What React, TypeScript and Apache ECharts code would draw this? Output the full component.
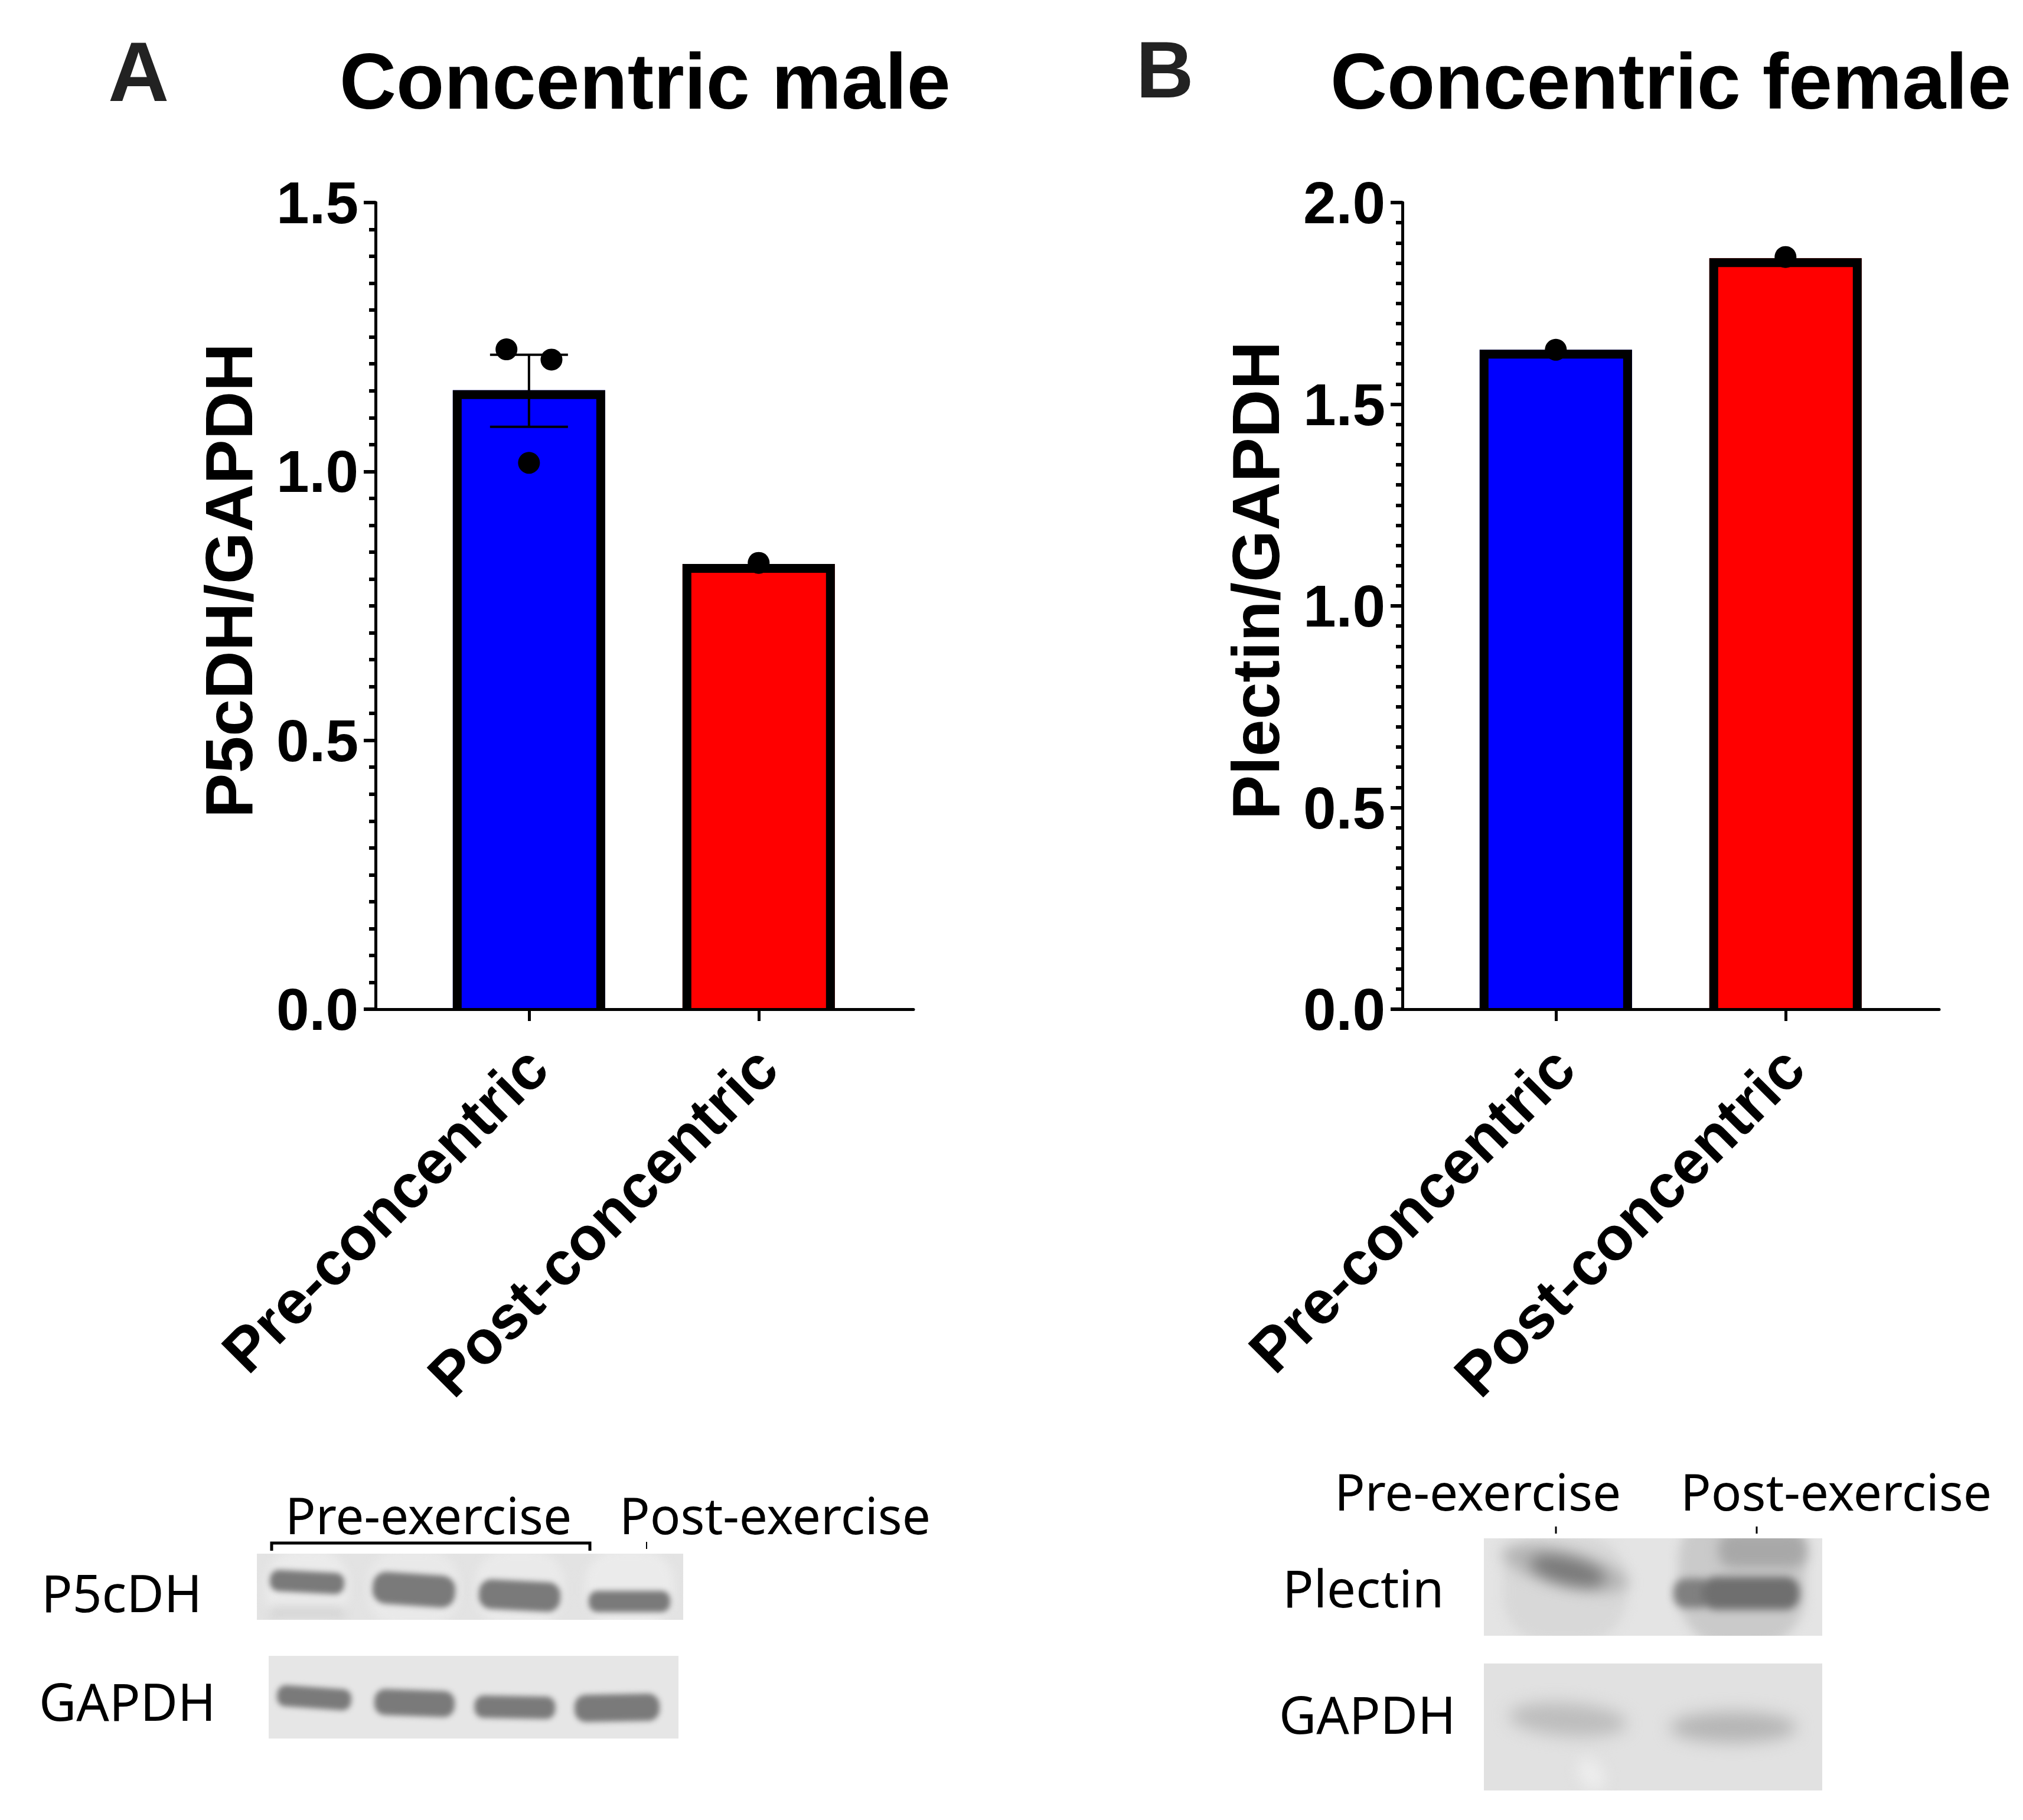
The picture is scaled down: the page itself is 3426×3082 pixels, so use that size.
import React, { useEffect, useRef } from "react";
import * as echarts from "echarts";

const categories = ["Pre-concentric", "Post-concentric"];
const barColors = ["#0000ff", "#ff0000"];
const maleBars = [1.151, 0.828];
const femaleBars = [1.635, 1.862];
const malePreDots = [1.227, 1.208, 1.016];
const malePreJitter = [-0.098, 0.098, 0];
const malePostDots = [0.83];
const femalePreDots = [1.635];
const femalePostDots = [1.865];
const maleError = [1.083, 1.217];
const yTicksMale = { max: 1.5, step: 0.5 };
const yTicksFemale = { max: 2.0, step: 0.5 };

const SANS = '"Liberation Sans", Arial, sans-serif';
const BLOT_FONT = '"Noto Sans", sans-serif';
const BAR_W = 258;
const BORDER = 15;

type Band = [number, number, number, number, number, string, number];
function blot(x: number, y: number, w: number, h: number, bg: string, lanes: Band[], bands: Band[]) {
  const c = document.createElement("canvas");
  c.width = w;
  c.height = h;
  const g = c.getContext("2d") as CanvasRenderingContext2D;
  g.fillStyle = bg;
  g.fillRect(0, 0, w, h);
  const draw = (b: Band, ellipse: boolean) => {
    const [cx, cy, bw, bh, rot, col, blur] = b;
    g.save();
    g.filter = `blur(${blur}px)`;
    g.fillStyle = col;
    g.translate(cx - x, cy - y);
    g.rotate((rot * Math.PI) / 180);
    g.beginPath();
    if (ellipse) g.ellipse(0, 0, bw / 2, bh / 2, 0, 0, Math.PI * 2);
    else g.roundRect(-bw / 2, -bh / 2, bw, bh, Math.min(bw, bh) * 0.42);
    g.fill();
    g.restore();
  };
  lanes.forEach((b) => draw(b, false));
  bands.forEach((b) => draw(b, b[6] > 10));
  return { type: "image", z: 1, style: { image: c.toDataURL("image/png"), x, y, width: w, height: h } };
}

function txt(text: string, x: number, baseline: number, size: number) {
  return {
    type: "text",
    z: 5,
    style: { text, x, y: baseline - size * 0.89, font: `${size}px ${BLOT_FONT}`, fill: "#000", verticalAlign: "top" },
  };
}

function line(x1: number, y1: number, x2: number, y2: number, w: number) {
  return { type: "line", z: 5, shape: { x1, y1, x2, y2 }, style: { stroke: "#000", lineWidth: w } };
}

function xAxisOf(gridIndex: number, min: number, max: number) {
  return {
    type: "value",
    gridIndex,
    min,
    max,
    z: 4,
    splitLine: { show: false },
    axisLine: { show: true, onZero: false, lineStyle: { color: "#000", width: 5 } },
    axisTick: { show: true, customValues: [1, 2], length: 20, lineStyle: { color: "#000", width: 5 } },
    axisLabel: {
      show: true,
      customValues: [1, 2],
      rotate: 45,
      margin: 95,
      padding: [0, -19, 0, 0],
      color: "#000",
      fontFamily: SANS,
      fontWeight: "bold",
      fontSize: 104,
      formatter: (v: number) => categories[v - 1],
    },
  };
}

function yAxisOf(gridIndex: number, name: string, t: { max: number; step: number }) {
  return {
    type: "value",
    gridIndex,
    min: 0,
    max: t.max,
    interval: t.step,
    name,
    nameLocation: "middle",
    nameRotate: 90,
    nameGap: 192,
    nameTextStyle: { color: "#000", fontFamily: SANS, fontWeight: "bold", fontSize: 113, padding: [0, 0, 0, 86] },
    splitLine: { show: false },
    axisLine: { show: true, lineStyle: { color: "#000", width: 5 } },
    axisTick: { show: true, length: 20, lineStyle: { color: "#000", width: 6 } },
    minorTick: { show: true, splitNumber: 10, length: 11, lineStyle: { color: "#000", width: 6 } },
    axisLabel: {
      margin: 29,
      color: "#000",
      fontFamily: SANS,
      fontWeight: "bold",
      fontSize: 100,
      formatter: (v: number) => v.toFixed(1),
    },
  };
}

function barSeries(i: number, vals: number[]) {
  return {
    type: "bar",
    xAxisIndex: i,
    yAxisIndex: i,
    barWidth: BAR_W,
    z: 2,
    data: vals.map((v, k) => ({ value: [k + 1, v], itemStyle: { color: barColors[k] } })),
  };
}

// three-sided outline: the reference's bars have no black edge along the axis
function outlineSeries(i: number, vals: number[]) {
  return {
    type: "custom",
    xAxisIndex: i,
    yAxisIndex: i,
    z: 3,
    data: vals.map((v, k) => [k + 1, v]),
    renderItem: (_: any, api: any) => {
      const top = api.coord([api.value(0), api.value(1)]);
      const base = api.coord([api.value(0), 0]);
      const half = BAR_W / 2 - BORDER / 2;
      return {
        type: "polyline",
        shape: {
          points: [
            [top[0] - half, base[1]],
            [top[0] - half, top[1] + BORDER / 2],
            [top[0] + half, top[1] + BORDER / 2],
            [top[0] + half, base[1]],
          ],
        },
        style: { stroke: "#000", lineWidth: BORDER, fill: "none", lineJoin: "miter" },
      };
    },
  };
}

function dotSeries(i: number, pts: number[][]) {
  return {
    type: "scatter",
    xAxisIndex: i,
    yAxisIndex: i,
    symbol: "circle",
    symbolSize: 37,
    z: 7,
    itemStyle: { color: "#000", opacity: 1 },
    data: pts,
  };
}

const option: any = {
  animation: false,
  backgroundColor: "#fff",
  title: [
    { text: "Concentric male", left: 570, top: 66, textStyle: { fontFamily: SANS, fontWeight: "bold", fontSize: 133, color: "#000" } },
    { text: "Concentric female", left: 2248, top: 66, textStyle: { fontFamily: SANS, fontWeight: "bold", fontSize: 133, color: "#000" } },
  ],
  grid: [
    { left: 636, top: 343, width: 911, height: 1366 },
    { left: 2375, top: 343, width: 909, height: 1366 },
  ],
  xAxis: [xAxisOf(0, 0.332, 2.674), xAxisOf(1, 0.332, 2.669)],
  yAxis: [yAxisOf(0, "P5cDH/GAPDH", yTicksMale), yAxisOf(1, "Plectin/GAPDH", yTicksFemale)],
  series: [
    barSeries(0, maleBars),
    barSeries(1, femaleBars),
    outlineSeries(0, maleBars),
    outlineSeries(1, femaleBars),
    {
      type: "custom",
      xAxisIndex: 0,
      yAxisIndex: 0,
      z: 6,
      data: [[1, maleError[0], maleError[1]]],
      renderItem: (_: any, api: any) => {
        const lo = api.coord([api.value(0), api.value(1)]);
        const hi = api.coord([api.value(0), api.value(2)]);
        const s = { stroke: "#000", lineWidth: 4 };
        const cap = 66;
        return {
          type: "group",
          children: [
            { type: "line", shape: { x1: lo[0], y1: lo[1], x2: hi[0], y2: hi[1] }, style: s },
            { type: "line", shape: { x1: lo[0] - cap, y1: lo[1], x2: lo[0] + cap, y2: lo[1] }, style: s },
            { type: "line", shape: { x1: hi[0] - cap, y1: hi[1], x2: hi[0] + cap, y2: hi[1] }, style: s },
          ],
        };
      },
    },
    dotSeries(0, [...malePreDots.map((v, i) => [1 + malePreJitter[i], v]), ...malePostDots.map((v) => [2, v])]),
    dotSeries(1, [...femalePreDots.map((v) => [1, v]), ...femalePostDots.map((v) => [2, v])]),
  ],
};

function overlays() {
  const dark = "#7a7a7a";
  const A1 = blot(435, 2631, 722, 112, "#e3e3e3", [
    [520, 2690, 140, 130, 0, "#ebebeb", 8],
    [700, 2690, 155, 130, 0, "#e9e9e9", 8],
    [880, 2690, 150, 130, 0, "#eaeaea", 8],
    [1066, 2690, 150, 130, 0, "#ebebeb", 8],
    [520, 2732, 130, 24, 0, "#d6d6d6", 8],
  ], [
    [520, 2679, 126, 36, 3, dark, 5],
    [701, 2692, 140, 54, 4, dark, 5],
    [880, 2702, 138, 50, 3, dark, 5],
    [1066, 2712, 138, 36, 0, dark, 5],
  ]);
  const A2 = blot(455, 2804, 694, 140, "#e6e6e6", [], [
    [532, 2875, 126, 36, 4, dark, 5],
    [702, 2884, 136, 44, 2, dark, 5],
    [872, 2891, 137, 38, 1, dark, 5],
    [1045, 2892, 144, 46, -1, dark, 5],
  ]);
  const B1 = blot(2513, 2605, 573, 165, "#e4e4e4", [
    [2650, 2690, 210, 180, 0, "#d8d8d8", 9],
    [2950, 2670, 215, 240, 0, "#cacaca", 9],
    [2985, 2625, 150, 60, 0, "#a8a8a8", 10],
  ], [
    [2650, 2656, 220, 60, 14, "#b4b4b4", 12],
    [2655, 2660, 130, 44, 14, "#7a7a7a", 12],
    [2866, 2698, 64, 50, 0, "#808080", 7],
    [2965, 2698, 165, 56, 0, "#6f6f6f", 7],
  ]);
  const B2 = blot(2513, 2817, 573, 215, "#e1e1e1", [], [
    [2655, 2912, 200, 56, 4, "#bdbdbd", 14],
    [2935, 2925, 215, 52, 0, "#b5b5b5", 14],
    [2695, 3005, 40, 60, -30, "#ededed", 12],
  ]);
  return [
    {
      type: "text",
      z: 5,
      style: { text: "A", x: 183, y: 50, font: `bold 143px ${SANS}`, fill: "#222", verticalAlign: "top" },
    },
    {
      type: "text",
      z: 5,
      style: { text: "B", x: 1924, y: 51, font: `bold 135px ${SANS}`, fill: "#222", verticalAlign: "top" },
    },
    A1,
    A2,
    B1,
    B2,
    txt("Pre-exercise", 483, 2598, 85.5),
    txt("Post-exercise", 1049, 2598, 85.5),
    txt("P5cDH", 70, 2730, 87),
    txt("GAPDH", 66, 2914, 87),
    { type: "polyline", z: 5, shape: { points: [[460, 2626], [460, 2613], [999, 2613], [999, 2626]] }, style: { stroke: "#000", lineWidth: 5, fill: "none" } },
    line(1095, 2611, 1095, 2623, 2),
    txt("Pre-exercise", 2260, 2558, 85.5),
    txt("Post-exercise", 2846, 2558, 85.5),
    txt("Plectin", 2172, 2722, 87),
    txt("GAPDH", 2166, 2936, 87),
    line(2635, 2585, 2635, 2597, 3),
    line(2975, 2585, 2975, 2597, 3),
  ];
}

export default function App() {
  const ref = useRef<HTMLDivElement>(null);
  useEffect(() => {
    document.body.style.margin = "0";
    const chart = echarts.init(ref.current as HTMLDivElement, undefined, { renderer: "svg" });
    chart.setOption({ ...option, graphic: { elements: overlays() } });
    return () => chart.dispose();
  }, []);
  return <div ref={ref} style={{ width: 3426, height: 3082 }} />;
}
